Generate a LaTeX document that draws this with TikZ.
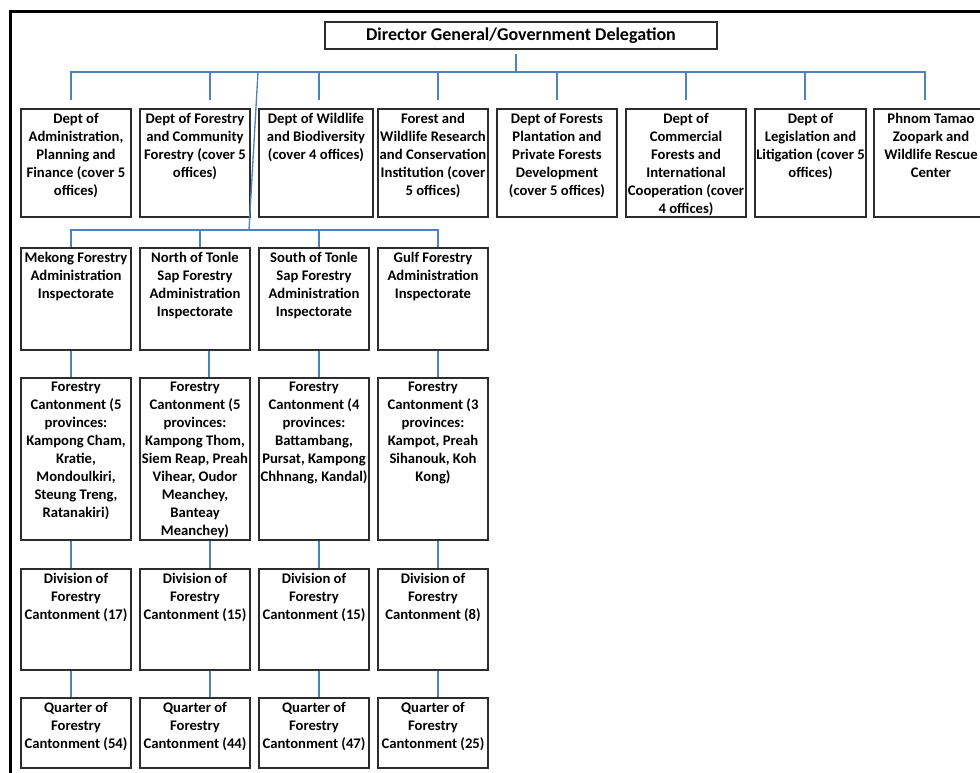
\documentclass[tikz,border=0pt]{standalone}
\usepackage{fontspec}
\setmainfont{Carlito}
\usetikzlibrary{positioning, calc}
\definecolor{linkblue}{RGB}{79,129,189}
\definecolor{boxgray}{RGB}{45,45,45}

\tikzset{
  unit/.style={draw=boxgray, line width=1.5pt, inner sep=0pt, anchor=north west, minimum width=82.5pt},
  dept/.style={unit, minimum height=81pt},
  insp/.style={unit, minimum height=76.5pt},
  cant/.style={unit, minimum height=121.5pt},
  divi/.style={unit, minimum height=75.75pt},
  quar/.style={unit, minimum height=52.5pt},
  boxtext/.style={anchor=north, yshift=-3.5pt, align=center, inner sep=0pt, font=\fontsize{11}{13.5}\selectfont\bfseries},
  link/.style={draw=linkblue, line width=1pt},
}

\begin{document}
\begin{tikzpicture}[x=0.75pt, y=-0.75pt]
  \useasboundingbox (0,0) rectangle (980,772);
  \clip (0,0) rectangle (980,772);

  % outer frame
  \draw[line width=2.25pt] (10.5,780) -- (10.5,11.5) -- (990,11.5);

  % top
  \node[unit, minimum width=294pt, minimum height=20.25pt, font=\fontsize{13.5}{15}\selectfont\bfseries] (dg) at (324,21) {Director General/Government Delegation};

  % departments
  \node[dept, label={[boxtext]north:{Dept of\\Administration,\\Planning and\\Finance (cover 5\\offices)}}] (d1) at (20,108) {};
  \node[dept, label={[boxtext]north:{Dept of Forestry\\and Community\\Forestry (cover 5\\offices)}}] (d2) at (139,108) {};
  \node[dept, minimum width=85.5pt, label={[boxtext]north:{Dept of Wildlife\\and Biodiversity\\(cover 4 offices)}}] (d3) at (258,108) {};
  \node[dept, label={[boxtext]north:{Forest and\\Wildlife Research\\and Conservation\\Institution (cover\\5 offices)}}] (d4) at (377,108) {};
  \node[dept, minimum width=90pt, label={[boxtext]north:{Dept of Forests\\Plantation and\\Private Forests\\Development\\(cover 5 offices)}}] (d5) at (496,108) {};
  \node[dept, minimum width=90pt, label={[boxtext]north:{Dept of\\Commercial\\Forests and\\International\\Cooperation (cover\\4 offices)}}] (d6) at (625,108) {};
  \node[dept, minimum width=83.25pt, label={[boxtext]north:{Dept of\\Legislation and\\Litigation (cover 5\\offices)}}] (d7) at (754,108) {};
  \node[dept, minimum width=85.5pt, label={[boxtext]north:{Phnom Tamao\\Zoopark and\\Wildlife Rescue\\Center}}] (d8) at (873,108) {};

  % inspectorates
  \node[insp, label={[boxtext]north:{Mekong Forestry\\Administration\\Inspectorate}}] (i1) at (20,247) {};
  \node[insp, label={[boxtext]north:{North of Tonle\\Sap Forestry\\Administration\\Inspectorate}}] (i2) at (139,247) {};
  \node[insp, label={[boxtext]north:{South of Tonle\\Sap Forestry\\Administration\\Inspectorate}}] (i3) at (258,247) {};
  \node[insp, label={[boxtext]north:{Gulf Forestry\\Administration\\Inspectorate}}] (i4) at (377,247) {};

  % cantonments
  \node[cant, label={[boxtext]north:{Forestry\\Cantonment (5\\provinces:\\Kampong Cham,\\Kratie,\\Mondoulkiri,\\Steung Treng,\\Ratanakiri)}}] (c1) at (20,377) {};
  \node[cant, label={[boxtext]north:{Forestry\\Cantonment (5\\provinces:\\Kampong Thom,\\Siem Reap, Preah\\Vihear, Oudor\\Meanchey,\\Banteay\\Meanchey)}}] (c2) at (139,377) {};
  \node[cant, label={[boxtext]north:{Forestry\\Cantonment (4\\provinces:\\Battambang,\\Pursat, Kampong\\Chhnang, Kandal)}}] (c3) at (258,377) {};
  \node[cant, label={[boxtext]north:{Forestry\\Cantonment (3\\provinces:\\Kampot, Preah\\Sihanouk, Koh\\Kong)}}] (c4) at (377,377) {};

  % divisions
  \node[divi, label={[boxtext]north:{Division of\\Forestry\\Cantonment (17)}}] (v1) at (20,568) {};
  \node[divi, label={[boxtext]north:{Division of\\Forestry\\Cantonment (15)}}] (v2) at (139,568) {};
  \node[divi, label={[boxtext]north:{Division of\\Forestry\\Cantonment (15)}}] (v3) at (258,568) {};
  \node[divi, label={[boxtext]north:{Division of\\Forestry\\Cantonment (8)}}] (v4) at (377,568) {};

  % quarters
  \node[quar, label={[boxtext]north:{Quarter of\\Forestry\\Cantonment (54)}}] (q1) at (20,697) {};
  \node[quar, label={[boxtext]north:{Quarter of\\Forestry\\Cantonment (44)}}] (q2) at (139,697) {};
  \node[quar, label={[boxtext]north:{Quarter of\\Forestry\\Cantonment (47)}}] (q3) at (258,697) {};
  \node[quar, label={[boxtext]north:{Quarter of\\Forestry\\Cantonment (25)}}] (q4) at (377,697) {};

  % connectors
  \coordinate (bus) at (516,72);
  \coordinate (split) at (258,72);
  \coordinate (bus2) at (249,230);
  \draw[link] (dg.south -| bus) ++(0,4) -- (bus);
  \foreach \n/\dx in {d1/-5, d2/15, d3/3, d4/5, d5/0, d6/0, d7/-5.5, d8/-6}
    \draw[link] (\n.north) ++(\dx,-8) |- (bus);
  \draw[link] (split) -- (bus2);
  \foreach \n/\dx in {i1/-5, i2/5, i3/5, i4/5}
    \draw[link] (\n.north) ++(\dx,0) |- (bus2);
  \foreach \a/\b/\dx in {i1/c1/-5, i2/c2/14, i3/c3/5, i4/c4/5,
                         c1/v1/-5, c2/v2/15, c3/v3/5, c4/v4/5,
                         v1/q1/-5, v2/q2/15, v3/q3/5, v4/q4/5}
    \draw[link] ([xshift=\dx*0.75pt]\a.south) -- ([xshift=\dx*0.75pt]\b.north);
\end{tikzpicture}
\end{document}
